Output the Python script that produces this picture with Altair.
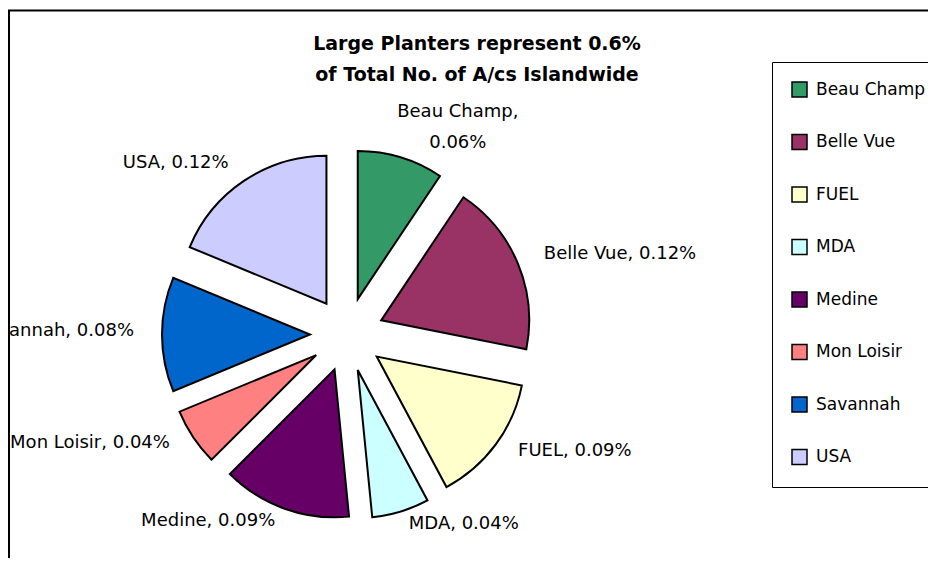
import math
import altair as alt
import pandas as pd

# ---- data -------------------------------------------------------------
NAMES = ["Beau Champ", "Belle Vue", "FUEL", "MDA", "Medine", "Mon Loisir", "Savannah", "USA"]
VALUES = [0.06, 0.12, 0.09, 0.04, 0.09, 0.04, 0.08, 0.12]
COLORS = ["#339966", "#993366", "#FFFFCC", "#CCFFFF", "#660066", "#FF8080", "#0066CC", "#CCCCFF"]
TITLE_LINES = ["Large Planters represent 0.6%", "of Total No. of A/cs Islandwide"]

df = pd.DataFrame({"name": NAMES, "value": VALUES, "order": list(range(len(NAMES)))})

# ---- layout constants (pixels in plot area) -----------------------------
W, H = 920, 550
CX, CY = 339, 326.5      # pie centre
R = 148                  # slice radius
EXPLODE = 37             # explosion distance
LCY = 323                # label ellipse centre y
LRX, LRY = 213, 202      # label anchor radii
FONT = "DejaVu Sans"

xs = alt.Scale(domain=[0, W], nice=False, zero=False)
ys = alt.Scale(domain=[0, H], nice=False, zero=False, reverse=True)

base = (
    alt.Chart(df)
    .transform_window(cum="sum(value)", sort=[alt.SortField("order")])
    .transform_joinaggregate(total="sum(value)")
    .transform_calculate(
        a0="2*PI*(datum.cum - datum.value)/datum.total",
        a1="2*PI*datum.cum/datum.total",
    )
    .transform_calculate(mid="(datum.a0 + datum.a1)/2")
    .transform_calculate(
        cx=f"{CX} + {EXPLODE}*sin(datum.mid)",
        cy=f"{CY} - {EXPLODE}*cos(datum.mid)",
        lx=f"{CX} + {LRX}*sin(datum.mid)",
        ly=f"{LCY} - {LRY}*cos(datum.mid)",
        side="sin(datum.mid) > 0 ? (cos(datum.mid) > 0.9 ? 'top' : 'right') : 'left'",
        label="datum.name + ', ' + format(datum.value, '.2f') + '%'",
        label2="datum.name + ',\\n' + format(datum.value, '.2f') + '%'",
    )
)

arcs = base.mark_arc(radius=R, stroke="black", strokeWidth=2).encode(
    x=alt.X("cx:Q", scale=xs, axis=None),
    y=alt.Y("cy:Q", scale=ys, axis=None),
    theta=alt.Theta("a0:Q", scale=None),
    theta2="a1:Q",
    color=alt.Color(
        "name:N",
        scale=alt.Scale(domain=NAMES, range=COLORS),
        legend=alt.Legend(
            title=None,
            orient="none",
            legendX=764,
            legendY=54,
            symbolType="square",
            symbolSize=225,
            symbolStrokeColor="black",
            symbolStrokeWidth=1.5,
            symbolOpacity=1,
            labelFont=FONT,
            labelFontSize=17,
            labelColor="black",
            labelOffset=8,
            rowPadding=31.5,
            padding=19,
            strokeColor="black",
            fillColor="white",
            labelLimit=300,
        ),
    ),
)

txt_kw = dict(font=FONT, fontSize=18, color="black", baseline="middle")

lab_right = base.transform_filter("datum.side == 'right'").mark_text(align="left", **txt_kw).encode(
    x=alt.X("lx:Q", scale=xs), y=alt.Y("ly:Q", scale=ys), text="label:N"
)
lab_left = base.transform_filter("datum.side == 'left'").mark_text(align="right", **txt_kw).encode(
    x=alt.X("lx:Q", scale=xs), y=alt.Y("ly:Q", scale=ys), text="label:N"
)
lab_top = base.transform_filter("datum.side == 'top'").mark_text(
    align="center", lineBreak="\n", lineHeight=31, dx=49, dy=-26, **txt_kw
).encode(x=alt.X("lx:Q", scale=xs), y=alt.Y("ly:Q", scale=ys), text="label2:N")

title = alt.Chart(pd.DataFrame({"t": [0]})).mark_text(
    text=TITLE_LINES, font=FONT, fontSize=19, fontWeight="bold", color="black",
    align="center", baseline="alphabetic", lineHeight=31,
).encode(x=alt.value(469), y=alt.value(42))

border_v = alt.Chart(pd.DataFrame({"t": [0]})).mark_rule(color="black", strokeWidth=2).encode(
    x=alt.value(1), y=alt.value(2.5), y2=alt.value(H)
)
border_h = alt.Chart(pd.DataFrame({"t": [0]})).mark_rule(color="black", strokeWidth=2).encode(
    x=alt.value(0), x2=alt.value(W), y=alt.value(2.5)
)

chart = (
    alt.layer(border_v, border_h, arcs, lab_right, lab_left, lab_top, title)
    .properties(width=W, height=H, autosize=alt.AutoSizeParams(type="none"), padding=0, background="white")
    .configure_view(stroke=None)
)

chart.save("out.html", embed_options={"renderer": "svg", "actions": False})
